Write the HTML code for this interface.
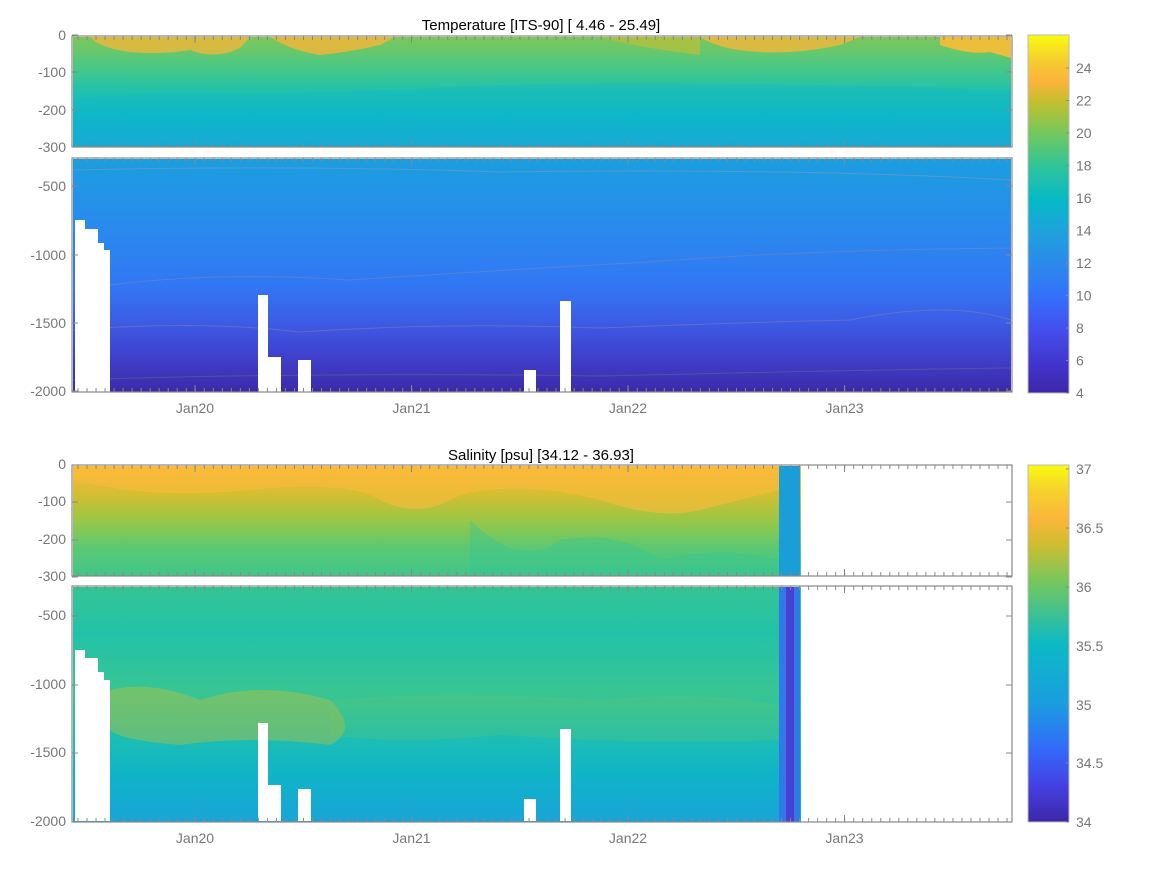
<!DOCTYPE html>
<html><head><meta charset="utf-8">
<style>
html,body{margin:0;padding:0;background:#fff;}
svg{display:block;font-family:"Liberation Sans",sans-serif;}
</style></head>
<body>
<svg id="s" width="1167" height="875" viewBox="0 0 1167 875" xmlns="http://www.w3.org/2000/svg">
<defs>
<linearGradient id="tTop" x1="0" y1="0" x2="0" y2="1">
<stop offset="0" stop-color="#7ec65a"/><stop offset="0.15" stop-color="#62c870"/>
<stop offset="0.32" stop-color="#40c78c"/><stop offset="0.5" stop-color="#1fc1ae"/>
<stop offset="0.72" stop-color="#0cb6c8"/><stop offset="1" stop-color="#1aa3db"/></linearGradient>
<linearGradient id="tBot" x1="0" y1="0" x2="0" y2="1">
<stop offset="0" stop-color="#1b9ee0"/><stop offset="0.3" stop-color="#2a8aee"/>
<stop offset="0.55" stop-color="#3276f4"/><stop offset="0.7" stop-color="#3c5ce6"/>
<stop offset="0.85" stop-color="#4040cc"/><stop offset="1" stop-color="#3b2aa9"/></linearGradient>
<linearGradient id="sTop" x1="0" y1="0" x2="0" y2="1">
<stop offset="0" stop-color="#fbba3a"/><stop offset="0.25" stop-color="#d6bd30"/>
<stop offset="0.5" stop-color="#98c746"/><stop offset="0.75" stop-color="#5ac874"/>
<stop offset="1" stop-color="#40c689"/></linearGradient>
<linearGradient id="sBot" x1="0" y1="0" x2="0" y2="1">
<stop offset="0" stop-color="#34c494"/><stop offset="0.2" stop-color="#22c2a8"/>
<stop offset="0.45" stop-color="#38c592"/><stop offset="0.62" stop-color="#1ebfb0"/>
<stop offset="0.8" stop-color="#0fb4c8"/><stop offset="1" stop-color="#19a4d8"/></linearGradient>
<linearGradient id="cbT" x1="0" y1="1" x2="0" y2="0">
<stop offset="0" stop-color="#3e26a8"/><stop offset="0.09" stop-color="#4237d0"/>
<stop offset="0.18" stop-color="#4450ee"/><stop offset="0.27" stop-color="#3370fb"/>
<stop offset="0.36" stop-color="#2c8aeb"/><stop offset="0.45" stop-color="#1ea2dd"/>
<stop offset="0.54" stop-color="#06bac6"/><stop offset="0.63" stop-color="#2cc49b"/>
<stop offset="0.72" stop-color="#6fc861"/><stop offset="0.81" stop-color="#c0c02e"/>
<stop offset="0.87" stop-color="#fbb33c"/><stop offset="0.93" stop-color="#f6ce2e"/>
<stop offset="1" stop-color="#f9fb0e"/></linearGradient>
<linearGradient id="cbS" x1="0" y1="1" x2="0" y2="0">
<stop offset="0" stop-color="#3e26a8"/><stop offset="0.1" stop-color="#4440e0"/>
<stop offset="0.2" stop-color="#3468fa"/><stop offset="0.33" stop-color="#1a9de0"/>
<stop offset="0.5" stop-color="#0bbac4"/><stop offset="0.67" stop-color="#72c75e"/>
<stop offset="0.78" stop-color="#d0bd2e"/><stop offset="0.85" stop-color="#fbb63a"/>
<stop offset="0.93" stop-color="#f6d22c"/><stop offset="1" stop-color="#f9fb0e"/></linearGradient>
<clipPath id="c1"><rect x="73" y="37" width="938" height="109"/></clipPath>
<clipPath id="c3"><rect x="73" y="466" width="938" height="109"/></clipPath>
</defs>

<text x="541" y="30" font-size="15" text-anchor="middle">Temperature [ITS-90]   [ 4.46 - 25.49]</text>
<text x="541" y="460" font-size="15" text-anchor="middle">Salinity [psu]   [34.12 - 36.93]</text>

<!-- Temperature -->
<rect x="73" y="37" width="938" height="110" fill="url(#tTop)"/>
<g clip-path="url(#c1)">
<path d="M90 37 Q100 48 130 52 Q160 55 190 50 Q215 60 240 48 L250 37 Z" fill="#f0b63a" opacity="0.8"/>
<path d="M270 37 Q290 50 320 55 Q350 52 380 45 L395 37 Z" fill="#f0b63a" opacity="0.85"/>
<path d="M700 37 Q720 50 760 52 Q800 54 840 45 L860 37 Z" fill="#f5b63b" opacity="0.8"/>
<path d="M600 37 Q640 48 700 55 L700 37 Z" fill="#c8be30" opacity="0.6"/>
<path d="M940 37 L940 45 Q970 55 990 52 L1011 58 L1011 37 Z" fill="#fbbd35" opacity="0.9"/>
<path d="M73 100 Q150 90 250 95 Q400 90 500 85 Q700 80 1011 90 L1011 147 L73 147 Z" fill="#10b6c8" opacity="0.35"/>
</g>
<rect x="73" y="159" width="938" height="233" fill="url(#tBot)"/>
<path d="M73 330 Q200 320 300 332 Q450 322 600 328 Q750 322 850 320 Q950 300 1011 320" stroke="#7a7ab0" stroke-width="1" fill="none" opacity="0.6"/>
<path d="M73 290 Q200 270 350 280 Q500 270 650 262 Q800 250 1011 248" stroke="#7a8ab8" stroke-width="1" fill="none" opacity="0.5"/>
<path d="M73 170 Q300 165 500 172 Q800 168 1011 180" stroke="#7a9ab8" stroke-width="1" fill="none" opacity="0.6"/>
<path d="M73 380 Q300 372 600 376 Q850 370 1011 368" stroke="#6a6090" stroke-width="1" fill="none" opacity="0.6"/>
<g fill="#fff">
<path d="M75 220 H85 V229 H98 V243 H104 V250 H110 V392 H75 Z"/>
<rect x="258" y="295" width="10" height="97"/>
<rect x="268" y="357" width="13" height="35"/>
<rect x="298" y="360" width="13" height="32"/>
<rect x="524" y="370" width="12" height="22"/>
<rect x="560" y="301" width="11" height="91"/>
</g>
<rect x="72" y="36" width="940" height="111" fill="none" stroke="#888" stroke-width="1.2"/>
<rect x="72" y="158" width="940" height="234" fill="none" stroke="#888" stroke-width="1.2"/>

<!-- Salinity -->
<rect x="73" y="466" width="938" height="110" fill="url(#sTop)"/>
<g clip-path="url(#c3)">
<path d="M73 466 L73 480 Q150 500 250 490 Q350 480 380 500 Q420 520 460 495 Q520 480 600 500 Q660 520 700 510 Q740 500 779 490 L779 466 Z" fill="#fbba3a" opacity="0.6"/>
<path d="M470 520 Q520 570 560 540 Q620 530 660 560 Q720 545 779 560 L779 576 L470 576 Z" fill="#35c695" opacity="0.4"/>
</g>
<rect x="73" y="587" width="938" height="235" fill="url(#sBot)"/>
<path d="M110 690 Q150 680 200 700 Q260 680 330 700 Q360 730 330 745 Q250 735 180 745 Q120 740 110 730 Z" fill="#c8bf32" opacity="0.4"/>
<path d="M330 700 Q450 690 600 700 Q700 690 779 705 L779 740 Q650 745 500 735 Q400 745 330 735 Z" fill="#7cc75a" opacity="0.2"/>
<rect x="779" y="466" width="21" height="110" fill="#1a9ed8"/>
<rect x="779" y="587" width="21" height="235" fill="#2f7ae8"/>
<rect x="786" y="587" width="8" height="235" fill="#4a3fd0"/>
<rect x="801" y="466" width="211" height="357" fill="#fff"/>
<g fill="#fff">
<path d="M75 650 H85 V658 H98 V672 H104 V680 H110 V821 H75 Z"/>
<rect x="258" y="723" width="10" height="98"/>
<rect x="268" y="785" width="13" height="36"/>
<rect x="298" y="789" width="13" height="32"/>
<rect x="524" y="799" width="12" height="22"/>
<rect x="560" y="729" width="11" height="92"/>
</g>
<rect x="72" y="465" width="940" height="111" fill="none" stroke="#888" stroke-width="1.2"/>
<rect x="72" y="586" width="940" height="236" fill="none" stroke="#888" stroke-width="1.2"/>

<!-- Colorbars -->
<rect x="1028" y="35" width="41" height="358" fill="url(#cbT)" stroke="#bbb"/>
<rect x="1028" y="465" width="41" height="357" fill="url(#cbS)" stroke="#bbb"/>
<g id="labels" font-size="14" fill="#777"></g>
<g id="ticks" stroke="#888" stroke-width="1"></g>
</svg>
<script>
var L=document.getElementById('labels'),T=document.getElementById('ticks'),ns='http://www.w3.org/2000/svg';
function t(x,y,s,a){var e=document.createElementNS(ns,'text');e.setAttribute('x',x);e.setAttribute('y',y);if(a)e.setAttribute('text-anchor',a);e.textContent=s;L.appendChild(e);}
function l(x1,y1,x2,y2){var e=document.createElementNS(ns,'line');e.setAttribute('x1',x1);e.setAttribute('y1',y1);e.setAttribute('x2',x2);e.setAttribute('y2',y2);T.appendChild(e);}
[[0,40],[-100,77],[-200,115],[-300,152],[-500,191],[-1000,260],[-1500,328],[-2000,396]].forEach(function(p){t(66,p[1],p[0],'end');l(72,p[1]-5,78,p[1]-5);l(1006,p[1]-5,1012,p[1]-5);});
[[0,469],[-100,506],[-200,544],[-300,581],[-500,620],[-1000,689],[-1500,757],[-2000,826]].forEach(function(p){t(66,p[1],p[0],'end');l(72,p[1]-4,78,p[1]-4);l(1006,p[1]-4,1012,p[1]-4);});
var panels=[[36,147],[158,392],[465,576],[586,822]];
for(var x=78;x<1012;x+=9.02){panels.forEach(function(p){l(x,p[0],x,p[0]+4);l(x,p[1],x,p[1]-4);});}
['Jan20','Jan21','Jan22','Jan23'].forEach(function(s,i){var x=195+i*216.5;t(x,413,s,'middle');t(x,843,s,'middle');panels.forEach(function(p){l(x,p[0],x,p[0]+7);l(x,p[1],x,p[1]-7);});});
for(var v=4;v<=24;v+=2){var y=393-(v-4)*16.25;t(1076,y+5,v);l(1066,y,1069,y);}
[[34,822],[34.5,763],[35,705],[35.5,646],[36,587],[36.5,528],[37,469]].forEach(function(p){t(1076,p[1]+5,p[0]);l(1066,p[1],1069,p[1]);});
</script>
</body></html>
